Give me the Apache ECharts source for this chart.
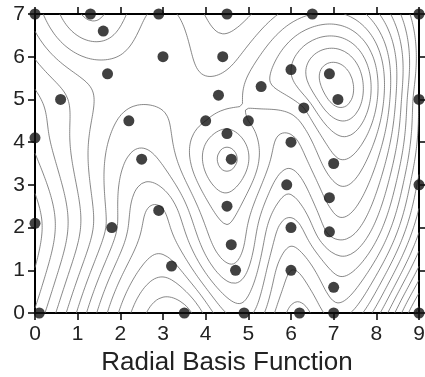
<!DOCTYPE html>
<html><head><meta charset="utf-8">
<script src="https://cdn.jsdelivr.net/npm/echarts@6/dist/echarts.min.js"></script>
<style>html,body{margin:0;padding:0;background:#fff}#c{width:425px;height:377px}</style>
</head><body><div id="c"></div>
<script>
// ---- data ----
const ptX = [0,1.3,1.6,2.9,4.5,6.5,9, 3.0,4.4,1.7,6.0,6.9, 0.6,4.3,5.3,7.1,9,6.3, 2.2,4.0,5.0,0,4.5,6.0, 2.5,4.6,7.0,9,5.9,6.9, 2.9,4.5,0,1.8,6.0,6.9, 4.6,3.2,4.7,6.0,7.0, 0.1,3.5,4.9,6.2,7.0,9];
const ptY = [7,7,6.6,7,7,7,7, 6.0,6.0,5.6,5.7,5.6, 5.0,5.1,5.3,5.0,5.0,4.8, 4.5,4.5,4.5,4.1,4.2,4.0, 3.6,3.6,3.5,3.0,3.0,2.7, 2.4,2.5,2.1,2.0,2.0,1.9, 1.6,1.1,1.0,1.0,0.6, 0,0,0,0,0,0];
const ptZ = [11,8.3,9,10.8,9,11.5,5.5, 11.2,10,11,13.5,16, 12.8,11,12.2,16,5.5,12.5, 10.2,11.5,11.5,14.2,12.8,10.2, 9.2,13.8,12.2,4.2,8.8,10.8, 7.3,12,16,10,7,9.7, 11.2,6.2,10.2,5.5,7, 14,4,8,4,6,-3];
const xTickLabels = ['0','1','2','3','4','5','6','7','8','9'];
const yTickLabels = ['0','1','2','3','4','5','6','7'];
const contourLevels = [-2.5,-1.5,-0.5,0.5,1.5,2.5,3.5,4.5,5.5,6.5,7.5,8.5,9.5,10.5,11.5,12.5,13.5,14.5,15.5,16.5,17.5,18.5];
const xTitle = 'Radial Basis Function';

// ---- thin-plate radial basis interpolation of the points ----
function phi(r){ return r > 0 ? r*r*Math.log(r) : 0; }
const n = ptX.length, N = n + 3;
const M = [];
for (let i = 0; i < N; i++) { M.push(new Array(N + 1).fill(0)); }
for (let i = 0; i < n; i++) {
  for (let j = 0; j < n; j++) {
    M[i][j] = phi(Math.hypot(ptX[i]-ptX[j], ptY[i]-ptY[j]));
  }
  M[i][n] = 1; M[i][n+1] = ptX[i]; M[i][n+2] = ptY[i];
  M[n][i] = 1; M[n+1][i] = ptX[i]; M[n+2][i] = ptY[i];
  M[i][N] = ptZ[i];
}
for (let c = 0; c < N; c++) {
  let p = c;
  for (let r = c+1; r < N; r++) if (Math.abs(M[r][c]) > Math.abs(M[p][c])) p = r;
  const t = M[c]; M[c] = M[p]; M[p] = t;
  for (let r = 0; r < N; r++) {
    if (r === c) continue;
    const f = M[r][c] / M[c][c];
    if (f === 0) continue;
    for (let k = c; k <= N; k++) M[r][k] -= f * M[c][k];
  }
}
const W = M.map((row, i) => row[N] / row[i]);
function field(x, y) {
  let s = W[n] + W[n+1]*x + W[n+2]*y;
  for (let i = 0; i < n; i++) s += W[i] * phi(Math.hypot(x-ptX[i], y-ptY[i]));
  return s;
}

// ---- grid + marching squares ----
const X0 = 0, X1 = 9, Y0 = 0, Y1 = 7, NX = 181, NY = 141;
const gx = [], gy = [];
for (let i = 0; i < NX; i++) gx.push(X0 + (X1-X0)*i/(NX-1));
for (let j = 0; j < NY; j++) gy.push(Y0 + (Y1-Y0)*j/(NY-1));
const G = [];
for (let i = 0; i < NX; i++) { const col = []; for (let j = 0; j < NY; j++) col.push(field(gx[i], gy[j])); G.push(col); }

function contour(L) {
  const pts = {}, adj = {};
  function edgePt(key, xa, ya, va, xb, yb, vb) {
    if (!pts[key]) { const t = (L - va) / (vb - va); pts[key] = [xa + t*(xb-xa), ya + t*(yb-ya)]; }
    return key;
  }
  function link(a, b) { (adj[a] = adj[a] || []).push(b); (adj[b] = adj[b] || []).push(a); }
  for (let i = 0; i < NX-1; i++) for (let j = 0; j < NY-1; j++) {
    const v0 = G[i][j], v1 = G[i+1][j], v2 = G[i+1][j+1], v3 = G[i][j+1];
    const s0 = v0 >= L, s1 = v1 >= L, s2 = v2 >= L, s3 = v3 >= L;
    const k0 = 'h'+i+','+j, k1 = 'v'+(i+1)+','+j, k2 = 'h'+i+','+(j+1), k3 = 'v'+i+','+j;
    const c0 = s0 !== s1, c1 = s1 !== s2, c2 = s3 !== s2, c3 = s0 !== s3;
    if (c0) edgePt(k0, gx[i], gy[j], v0, gx[i+1], gy[j], v1);
    if (c1) edgePt(k1, gx[i+1], gy[j], v1, gx[i+1], gy[j+1], v2);
    if (c2) edgePt(k2, gx[i], gy[j+1], v3, gx[i+1], gy[j+1], v2);
    if (c3) edgePt(k3, gx[i], gy[j], v0, gx[i], gy[j+1], v3);
    const cnt = c0 + c1 + c2 + c3;
    if (cnt === 2) {
      const ks = []; if (c0) ks.push(k0); if (c1) ks.push(k1); if (c2) ks.push(k2); if (c3) ks.push(k3);
      link(ks[0], ks[1]);
    } else if (cnt === 4) {
      const cen = (v0+v1+v2+v3)/4 >= L;
      if (s0 === cen) { link(k0, k1); link(k2, k3); } else { link(k0, k3); link(k1, k2); }
    }
  }
  const used = {}, lines = [];
  function walk(start) {
    const line = [pts[start]]; used[start] = true; let cur = start;
    while (true) {
      const nb = (adj[cur] || []).filter(k => !used[k]);
      if (!nb.length) {
        if ((adj[cur]||[]).indexOf(start) >= 0 && line.length > 2) line.push(pts[start]);
        break;
      }
      cur = nb[0]; used[cur] = true; line.push(pts[cur]);
    }
    return line;
  }
  Object.keys(adj).forEach(k => { if (!used[k] && adj[k].length === 1) lines.push(walk(k)); });
  Object.keys(adj).forEach(k => { if (!used[k]) lines.push(walk(k)); });
  return lines;
}

const series = [];
contourLevels.forEach(L => {
  contour(L).forEach(line => {
    if (line.length < 2) return;
    series.push({ type: 'line', data: line, showSymbol: false, symbol: 'none', silent: true, animation: false,
      lineStyle: { color: '#6a6a6a', width: 0.8 }, xAxisIndex: 0, yAxisIndex: 0, z: 1 });
  });
});
series.push({ type: 'scatter', data: ptX.map((x, i) => [x, ptY[i]]), symbolSize: 11, clip: false,
  itemStyle: { color: '#111' }, xAxisIndex: 0, yAxisIndex: 0, z: 5, silent: true, animation: false });

const font = 'Liberation Sans, Arial, sans-serif';
const axLine = { show: true, onZero: false, lineStyle: { color: '#000', width: 2 } };
const axTick = { show: true, inside: false, length: 7, lineStyle: { color: '#000', width: 1.5 } };
const chart = echarts.init(document.getElementById('c'), null, { renderer: 'canvas' });
chart.setOption({
  animation: false,
  backgroundColor: '#fff',
  grid: { left: 35, right: 6, top: 14, bottom: 64, containLabel: false, outerBoundsMode: 'none' },
  xAxis: [
    { type: 'value', position: 'bottom', min: 0, max: 9, interval: 1, axisLine: axLine, axisTick: axTick,
      splitLine: { show: false },
      axisLabel: { formatter: v => xTickLabels[Math.round(v)], color: '#222', fontSize: 21, margin: 11, fontFamily: font },
      name: xTitle, nameLocation: 'middle', nameGap: 36,
      nameTextStyle: { fontSize: 26, color: '#222', fontFamily: font } },
    { type: 'value', position: 'top', min: 0, max: 9, interval: 1, axisLine: axLine, axisTick: axTick,
      splitLine: { show: false }, axisLabel: { show: false } }
  ],
  yAxis: [
    { type: 'value', position: 'left', min: 0, max: 7, interval: 1, axisLine: axLine, axisTick: axTick,
      splitLine: { show: false },
      axisLabel: { formatter: v => yTickLabels[Math.round(v)], color: '#222', fontSize: 21, margin: 10, fontFamily: font } },
    { type: 'value', position: 'right', min: 0, max: 7, interval: 1, axisLine: axLine, axisTick: axTick,
      splitLine: { show: false }, axisLabel: { show: false } }
  ],
  series: series
});
</script></body></html>
